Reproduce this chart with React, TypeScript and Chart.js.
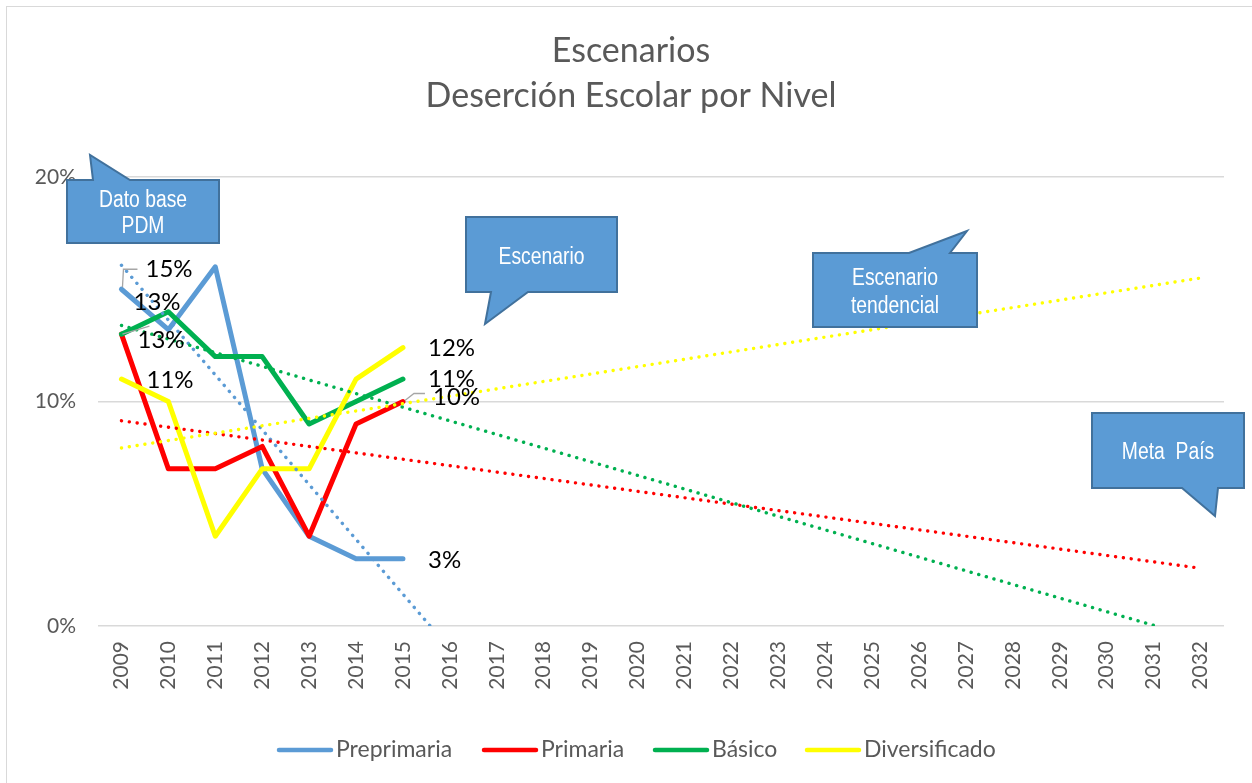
import React, { useEffect, useRef } from "react";
import { Chart, registerables } from "chart.js";

Chart.register(...registerables);

// ---------- data ----------
const years = [2009, 2010, 2011, 2012, 2013, 2014, 2015, 2016, 2017, 2018, 2019, 2020, 2021, 2022, 2023, 2024, 2025, 2026, 2027, 2028, 2029, 2030, 2031, 2032];
const dataYears = [2009, 2010, 2011, 2012, 2013, 2014, 2015];
const preprimaria = [15, 13.2, 16, 7, 4, 3, 3];
const primaria = [13, 7, 7, 8, 4, 9, 10];
const basico = [13, 14, 12, 12, 9, 10, 11];
const diversificado = [11, 10, 4, 7, 7, 11, 12.4];

// dotted trend lines (start / end)
const trendPreprimariaX = [2009, 2015.58];
const trendPreprimariaY = [16.07, 0];
const trendPrimariaX = [2009, 2032];
const trendPrimariaY = [9.14, 2.57];
const trendBasicoX = [2009, 2031.05];
const trendBasicoY = [13.39, 0];
const trendDiversificadoX = [2009, 2032];
const trendDiversificadoY = [7.93, 15.5];

const yTicks = [0, 10, 20];
const seriesNames = ["Preprimaria", "Primaria", "Básico", "Diversificado"];
const seriesColors = ["#5B9BD5", "#FF0000", "#00B050", "#FFFF00"];
const titleLines = ["Escenarios", "Deserción Escolar por Nivel"];

const FONT = "Lato, Carlito, Calibri, 'Open Sans', sans-serif";
const GREY = "#595959";

const pts = (xs: number[], ys: number[]) => xs.map((x, i) => ({ x, y: ys[i] }));

function drawCallout(
  ctx: CanvasRenderingContext2D,
  r: { x: number; y: number; w: number; h: number },
  tail: { side: "top" | "bottom"; b1: number; b2: number; tx: number; ty: number },
  lines: string[],
  baselines: number[]
) {
  ctx.save();
  ctx.beginPath();
  const { x, y, w, h } = r;
  if (tail.side === "top") {
    ctx.moveTo(x, y);
    ctx.lineTo(tail.b1, y);
    ctx.lineTo(tail.tx, tail.ty);
    ctx.lineTo(tail.b2, y);
    ctx.lineTo(x + w, y);
    ctx.lineTo(x + w, y + h);
    ctx.lineTo(x, y + h);
  } else {
    ctx.moveTo(x, y);
    ctx.lineTo(x + w, y);
    ctx.lineTo(x + w, y + h);
    ctx.lineTo(tail.b2, y + h);
    ctx.lineTo(tail.tx, tail.ty);
    ctx.lineTo(tail.b1, y + h);
    ctx.lineTo(x, y + h);
  }
  ctx.closePath();
  ctx.fillStyle = "#5B9BD5";
  ctx.fill();
  ctx.lineWidth = 2;
  ctx.strokeStyle = "#41719C";
  ctx.lineJoin = "miter";
  ctx.stroke();
  ctx.fillStyle = "#FFFFFF";
  ctx.font = "23px 'Liberation Sans', Arial, sans-serif";
  ctx.textAlign = "center";
  ctx.textBaseline = "alphabetic";
  const cx = x + w / 2;
  lines.forEach((t, i) => {
    ctx.save();
    ctx.translate(cx, baselines[i]);
    ctx.scale(0.84, 1);
    ctx.fillText(t, 0, 0);
    ctx.restore();
  });
  ctx.restore();
}

const overlayPlugin = {
  id: "overlay",
  beforeDraw(chart: any) {
    const ctx = chart.ctx as CanvasRenderingContext2D;
    ctx.save();
    ctx.fillStyle = "#FFFFFF";
    ctx.fillRect(0, 0, chart.width, chart.height);
    ctx.strokeStyle = "#D9D9D9";
    ctx.lineWidth = 1;
    ctx.strokeRect(6.5, 6.5, 1400, 1400);
    // title
    ctx.fillStyle = GREY;
    ctx.font = `34px ${FONT}`;
    ctx.textAlign = "center";
    ctx.textBaseline = "alphabetic";
    ctx.fillText(titleLines[0], 631, 62);
    ctx.fillText(titleLines[1], 631, 107);
    ctx.restore();
  },
  afterDatasetsDraw(chart: any) {
    const ctx = chart.ctx as CanvasRenderingContext2D;
    ctx.save();
    ctx.font = `24px ${FONT}`;
    ctx.fillStyle = "#000000";
    ctx.textAlign = "left";
    ctx.textBaseline = "middle";
    const p = (ds: number, idx: number) => chart.getDatasetMeta(ds).data[idx];
    const label = (ds: number, idx: number, vals: number[], dx: number, dy: number) => {
      const el = p(ds, idx);
      ctx.fillText(Math.round(vals[idx]) + "%", el.x + dx, el.y + dy);
    };
    // leader lines
    ctx.strokeStyle = "#A6A6A6";
    ctx.lineWidth = 1.3;
    const b0 = p(0, 0);
    ctx.beginPath();
    ctx.moveTo(b0.x + 1, b0.y - 2);
    ctx.lineTo(b0.x + 2, b0.y - 20);
    ctx.lineTo(b0.x + 16, b0.y - 20);
    ctx.stroke();
    const r0 = p(1, 0);
    ctx.beginPath();
    ctx.moveTo(r0.x + 1, r0.y);
    ctx.lineTo(r0.x + 28, r0.y - 8);
    ctx.stroke();
    const r6 = p(1, 6);
    ctx.beginPath();
    ctx.moveTo(r6.x + 2, r6.y - 1);
    ctx.lineTo(r6.x + 11, r6.y - 8);
    ctx.lineTo(r6.x + 22, r6.y - 8);
    ctx.stroke();

    label(0, 0, preprimaria, 24, -20);
    label(2, 0, basico, 12, -32);
    label(1, 0, primaria, 16, 6);
    label(3, 0, diversificado, 25, 1);
    label(3, 6, diversificado, 25, 1);
    label(2, 6, basico, 25, 0);
    label(1, 6, primaria, 30, -4);
    label(0, 6, preprimaria, 25, 2);
    ctx.restore();
  },
  afterDraw(chart: any) {
    const ctx = chart.ctx as CanvasRenderingContext2D;
    // callouts
    drawCallout(ctx, { x: 67, y: 180, w: 152, h: 63 }, { side: "top", b1: 93, b2: 130, tx: 90, ty: 155 }, ["Dato base", "PDM"], [207, 233]);
    drawCallout(ctx, { x: 466, y: 217, w: 151, h: 75 }, { side: "bottom", b1: 491, b2: 528, tx: 485, ty: 324 }, ["Escenario"], [264]);
    drawCallout(ctx, { x: 813, y: 253, w: 164, h: 74 }, { side: "top", b1: 909, b2: 950, tx: 967, ty: 231 }, ["Escenario", "tendencial"], [285, 313]);
    drawCallout(ctx, { x: 1092, y: 413, w: 152, h: 75 }, { side: "bottom", b1: 1182, b2: 1218, tx: 1215, ty: 516 }, ["Meta  País"], [459]);

    // legend
    ctx.save();
    ctx.font = `23px ${FONT}`;
    ctx.textBaseline = "middle";
    ctx.textAlign = "left";
    const starts = [277, 482, 653, 805];
    seriesNames.forEach((name, i) => {
      const x0 = starts[i];
      ctx.strokeStyle = seriesColors[i];
      ctx.lineWidth = 4.5;
      ctx.lineCap = "round";
      ctx.beginPath();
      ctx.moveTo(x0 + 2, 750);
      ctx.lineTo(x0 + 54, 750);
      ctx.stroke();
      ctx.fillStyle = GREY;
      ctx.fillText(name, x0 + 59, 750);
    });
    ctx.restore();
  },
};

export default function App() {
  const canvasRef = useRef<HTMLCanvasElement | null>(null);

  useEffect(() => {
    document.body.style.margin = "0";
    let chart: Chart | null = null;
    let cancelled = false;
    const make = () => {
      if (cancelled || !canvasRef.current) return;
      const lineDs = (label: string, vals: number[], color: string, order: number) => ({
        label,
        data: pts(dataYears, vals),
        borderColor: color,
        backgroundColor: color,
        borderWidth: 5,
        pointRadius: 0,
        borderCapStyle: "round" as const,
        borderJoinStyle: "round" as const,
        tension: 0,
        order,
      });
      const trendDs = (label: string, xs: number[], ys: number[], color: string, order: number) => ({
        label,
        data: pts(xs, ys),
        borderColor: color,
        backgroundColor: color,
        borderWidth: 3.4,
        borderDash: [0.1, 7.8],
        borderCapStyle: "round" as const,
        pointRadius: 0,
        tension: 0,
        order,
      });
      chart = new Chart(canvasRef.current, {
        type: "line",
        data: {
          datasets: [
            lineDs(seriesNames[0], preprimaria, seriesColors[0], 4),
            lineDs(seriesNames[1], primaria, seriesColors[1], 3),
            lineDs(seriesNames[2], basico, seriesColors[2], 2),
            lineDs(seriesNames[3], diversificado, seriesColors[3], 1),
            trendDs("t1", trendPreprimariaX, trendPreprimariaY, seriesColors[0], -1),
            trendDs("t2", trendPrimariaX, trendPrimariaY, seriesColors[1], -2),
            trendDs("t3", trendBasicoX, trendBasicoY, seriesColors[2], -3),
            trendDs("t4", trendDiversificadoX, trendDiversificadoY, seriesColors[3], -4),
          ],
        },
        options: {
          responsive: false,
          animation: false,
          events: [],
          layout: { padding: { left: 0, top: 177, right: 28, bottom: 0 } },
          plugins: {
            legend: { display: false },
            title: { display: false },
            tooltip: { enabled: false },
          },
          scales: {
            x: {
              type: "linear",
              min: 2008.5,
              max: 2032.5,
              afterBuildTicks: (scale: any) => {
                scale.ticks = years.map((v) => ({ value: v }));
              },
              afterFit: (scale: any) => {
                scale.height = 157;
              },
              grid: { display: false, drawTicks: false },
              border: { display: false },
              ticks: {
                autoSkip: false,
                maxRotation: 90,
                minRotation: 90,
                padding: 15,
                color: GREY,
                font: { family: FONT, size: 21 },
                callback: (v: any) => String(v),
              },
            },
            y: {
              min: 0,
              max: 20,
              afterBuildTicks: (scale: any) => {
                scale.ticks = yTicks.map((v) => ({ value: v }));
              },
              afterFit: (scale: any) => {
                scale.width = 98;
              },
              grid: { color: "#D9D9D9", lineWidth: 1.5, drawTicks: false },
              border: { display: false },
              ticks: {
                padding: 22,
                color: GREY,
                font: { family: FONT, size: 21 },
                callback: (v: any) => v + "%",
              },
            },
          },
        },
        plugins: [overlayPlugin],
      } as any);
    };
    const fontsReady = (document as any).fonts
      ? Promise.all([
          (document as any).fonts.load(`20px Lato`),
          (document as any).fonts.load(`20px 'Liberation Sans'`),
        ]).catch(() => null)
      : Promise.resolve(null);
    fontsReady.then(make);
    return () => {
      cancelled = true;
      if (chart) chart.destroy();
    };
  }, []);

  return (
    <div style={{ width: 1252, height: 783 }}>
      <canvas ref={canvasRef} width={1252} height={783} style={{ display: "block" }} />
    </div>
  );
}
